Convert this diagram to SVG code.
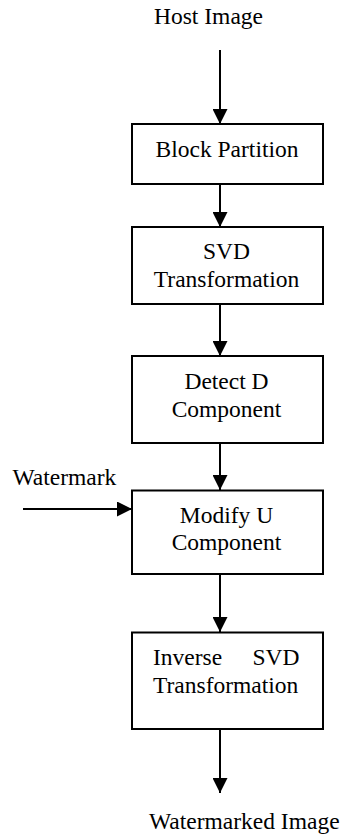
<svg xmlns="http://www.w3.org/2000/svg" width="344" height="839" viewBox="0 0 344 839" font-family="'Liberation Serif', 'Times New Roman', serif">
<style>
text { font-family: "Liberation Serif", "Times New Roman", serif; font-size: 23.5px; fill: #000; }
.c { text-anchor: middle; }
.box { fill: #fff; stroke: #000; stroke-width: 2; }
.conn { stroke: #000; stroke-width: 2; fill: none; marker-end: url(#ah); }
</style>
<defs>
<marker id="ah" markerUnits="userSpaceOnUse" markerWidth="15" markerHeight="15" refX="15" refY="7.5" orient="auto">
<path d="M0,0 L15,7.5 L0,15 z" fill="#000"/>
</marker>
</defs>
<g id="connectors">
<line class="conn" x1="220" y1="50" x2="220" y2="124"/>
<line class="conn" x1="220" y1="184" x2="220" y2="227"/>
<line class="conn" x1="220" y1="304" x2="220" y2="356"/>
<line class="conn" x1="220" y1="443" x2="220" y2="490"/>
<line class="conn" x1="23" y1="509" x2="132" y2="509"/>
<line class="conn" x1="220" y1="574" x2="220" y2="632"/>
<line class="conn" x1="220" y1="729" x2="220" y2="793"/>
</g>
<g id="host-image"><text x="154" y="23.5">Host Image</text></g>
<g id="block-partition">
<rect class="box" x="132" y="124" width="191" height="60"/>
<text class="c" x="227" y="157">Block Partition</text>
</g>
<g id="svd-transformation">
<rect class="box" x="132" y="227" width="191" height="77"/>
<text class="c" x="226.5" y="259">SVD</text>
<text class="c" x="226.5" y="287">Transformation</text>
</g>
<g id="detect-d">
<rect class="box" x="132" y="356" width="191" height="87"/>
<text class="c" x="226.5" y="389">Detect D</text>
<text class="c" x="226.5" y="416.5">Component</text>
</g>
<g id="watermark"><text x="12.5" y="485">Watermark</text></g>
<g id="modify-u">
<rect class="box" x="132" y="490.5" width="191" height="83.5"/>
<text class="c" x="226.5" y="523">Modify U</text>
<text class="c" x="226.5" y="550">Component</text>
</g>
<g id="inverse-svd">
<rect class="box" x="132" y="632.5" width="191" height="96.5"/>
<text x="153" y="665">Inverse</text>
<text x="299.5" y="665" text-anchor="end">SVD</text>
<text x="153" y="693">Transformation</text>
</g>
<g id="watermarked-image"><text x="149" y="829">Watermarked Image</text></g>
</svg>
